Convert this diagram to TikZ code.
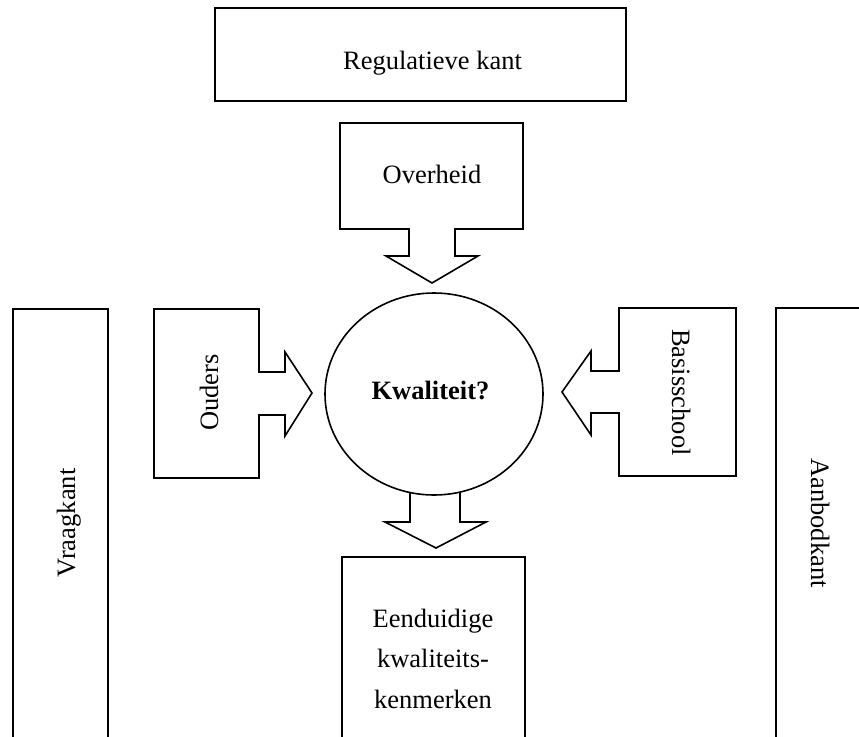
\documentclass[tikz,border=0pt]{standalone}
\usepackage{fontspec}
\setmainfont{Liberation Serif}
\usetikzlibrary{shapes.geometric}
\begin{document}
\begin{tikzpicture}[x=1pt,y=-1pt,
  shapeline/.style={draw=black,line width=1.6pt,line join=miter},
  thickbox/.style={draw=black,line width=2.8pt},
  lbl/.style={inner sep=0pt,anchor=base,font=\fontsize{26.5}{40.5}\selectfont},
  lblb/.style={lbl,font=\fontsize{26.5}{40.5}\selectfont\bfseries}]
\clip (0,0) rectangle (859,736);
\fill[white] (0,0) rectangle (859,736);
% Regulatieve kant
\draw[thickbox] (215,8) rectangle (626,101);
\node[lbl] (reg) at (432.5,69) {Regulatieve kant};
% Overheid block arrow
\draw[shapeline] (340,123) -- (523,123) -- (523,229) -- (455,229) -- (455,256) -- (478,256) -- (432,283) -- (386,256) -- (409,256) -- (409,229) -- (340,229) -- cycle;
\node[lbl] (ovh) at (432,183) {Overheid};
% Ouders block arrow
\draw[shapeline] (154,309) -- (259,309) -- (259,372) -- (285,372) -- (285,352) -- (312,393) -- (285,436) -- (285,415) -- (259,415) -- (259,478) -- (154,478) -- cycle;
\node[lbl,rotate=90] (oud) at (218,392.5) {Ouders};
% Basisschool block arrow
\draw[shapeline] (736,308) -- (619,308) -- (619,371) -- (591,371) -- (591,351) -- (562,392) -- (591,435) -- (591,413) -- (619,413) -- (619,476) -- (736,476) -- cycle;
\node[lbl,rotate=-90] (bas) at (672,392.5) {Basisschool};
% Kwaliteit circle
\node[ellipse,shapeline,minimum width=218pt,minimum height=202pt,inner sep=0pt] (q) at (434,394) {};
\node[lblb] (kw) at (430.5,399) {Kwaliteit?};
% bottom arrow
\draw[shapeline] (410,492.5) -- (410,522) -- (385,522) -- (436,548) -- (486,522) -- (460,522) -- (460,492);
% Eenduidige box
\draw[shapeline] (342,557) rectangle (525,760);
\node[lbl] (e1) at (433,627) {Eenduidige};
\node[lbl] (e2) at (433,667) {kwaliteits-};
\node[lbl] (e3) at (433,708) {kenmerken};
% Vraagkant
\draw[shapeline] (13,309) rectangle (108,760);
\node[lbl,rotate=90] (vr) at (75,523) {Vraagkant};
% Aanbodkant
\draw[shapeline] (776,308) rectangle (880,760);
\node[lbl,rotate=-90] (aa) at (811,523) {Aanbodkant};
\end{tikzpicture}
\end{document}
